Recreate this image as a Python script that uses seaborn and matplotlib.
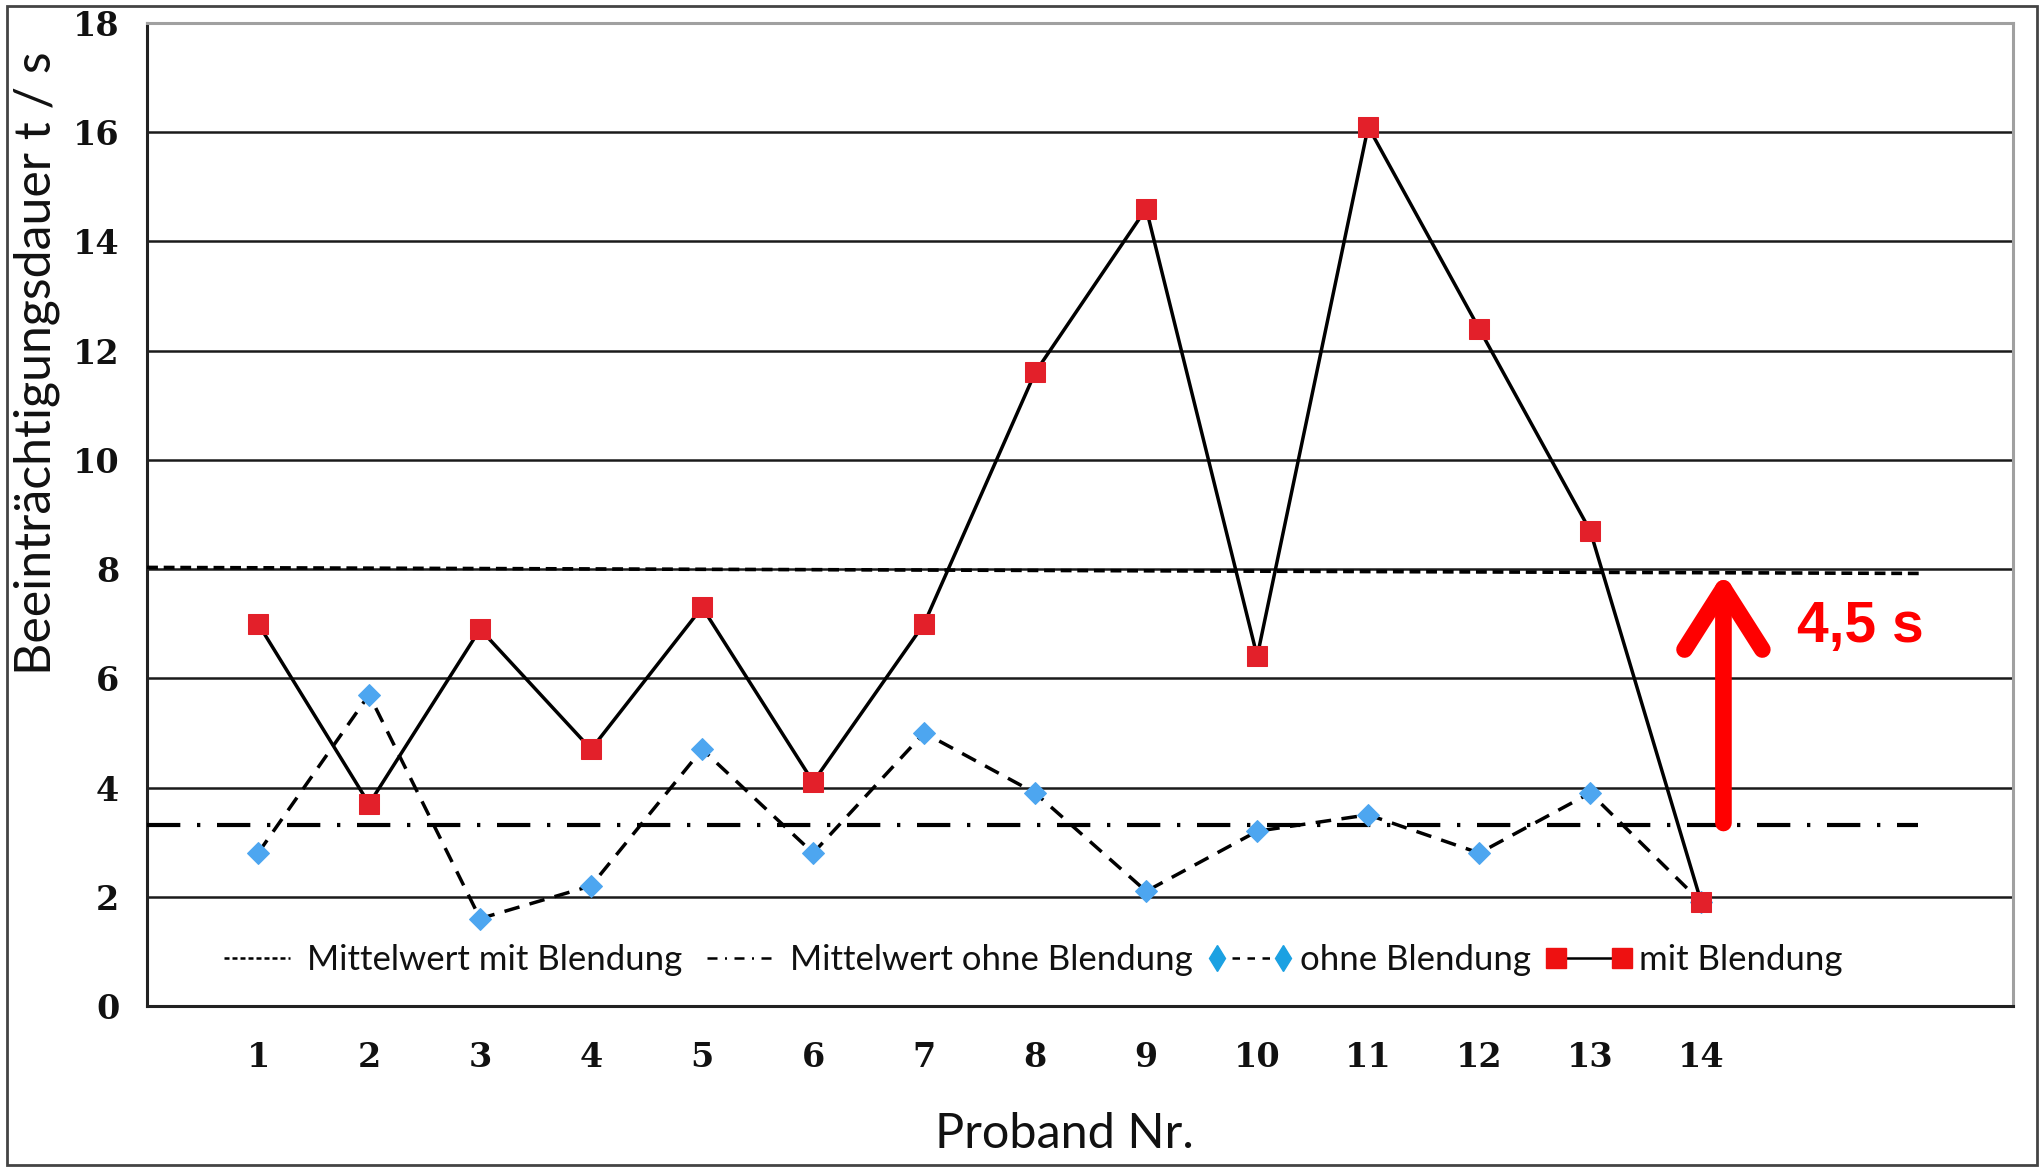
import matplotlib
matplotlib.use('Agg')
import numpy as np
import matplotlib.pyplot as plt
from matplotlib.lines import Line2D
from matplotlib.patches import Rectangle
import seaborn as sns

sns.set_style("white")
plt.rcParams['font.family'] = ['Lato', 'DejaVu Sans']

# ==================== Daten ====================
proband = np.arange(1, 15)
mit_blendung = [7.0, 3.7, 6.9, 4.7, 7.3, 4.1, 7.0, 11.6, 14.6, 6.4, 16.1, 12.4, 8.7, 1.9]
ohne_blendung = [2.8, 5.7, 1.6, 2.2, 4.7, 2.8, 5.0, 3.9, 2.1, 3.2, 3.5, 2.8, 3.9, 1.9]
mittel_mit_x = [0.0, 16.0]
mittel_mit_y = [8.03, 7.92]      # leicht geneigt wie im Original
mittel_ohne_x = [0.0, 15.95]
mittel_ohne_y = [3.32, 3.32]
pfeil_x = 14.2
pfeil_y = [3.35, 7.93]
differenz_text = "4,5 s"
yticks = np.arange(0, 19, 2)

ROT = '#e3202a'
BLAU = '#4da6f0'

fig = plt.figure(figsize=(20.43, 11.70), dpi=100)
ax = fig.add_axes([0.0720, 0.1402, 0.9134, 0.8402])

# Mittelwerte
ax.plot(mittel_mit_x, mittel_mit_y, color='black', lw=2.6, linestyle=(0, (3, 1.6)), zorder=3)
ax.plot(mittel_ohne_x, mittel_ohne_y, color='black', lw=3.0,
        linestyle=(0, (8, 4, 0.8, 4)), zorder=3)

# Messreihen
sns.lineplot(x=proband, y=ohne_blendung, ax=ax, color='black', lw=2.5,
             linestyle=(0, (4.5, 3)), marker='D', markersize=11,
             markerfacecolor=BLAU, markeredgecolor=BLAU, zorder=4)
sns.lineplot(x=proband, y=mit_blendung, ax=ax, color='black', lw=2.5,
             marker='s', markersize=14, markerfacecolor=ROT,
             markeredgecolor=ROT, zorder=5)

# Pfeil und Differenz
ax.annotate('', xy=(pfeil_x, pfeil_y[1]), xytext=(pfeil_x, pfeil_y[0]),
            arrowprops=dict(arrowstyle='->,head_length=2.2,head_width=1.4',
                            color='#ff0000', lw=12, mutation_scale=20,
                            shrinkA=0, shrinkB=0, capstyle='round',
                            joinstyle='round'), zorder=6)
ax.text(14.86, 6.94, differenz_text, color='#ff0000', fontsize=41,
        fontweight='bold', family='Liberation Sans', ha='left', va='center')

# Achsen
ax.set_xlim(0, 16.81)
ax.set_ylim(0, 18)
ax.set_yticks(yticks)
ax.set_xticks(proband)
ax.set_xticks(np.arange(0.5, 17, 1), minor=True)
ax.tick_params(axis='x', which='major', length=0, pad=25)
ax.tick_params(axis='x', which='minor', length=8, width=1.6, direction='out', color='#222222')
ax.tick_params(axis='y', length=7, width=1.6, direction='out', pad=13, color='#222222')
for lab in ax.get_xticklabels() + ax.get_yticklabels():
    lab.set_family('DejaVu Serif')
    lab.set_fontweight('bold')
    lab.set_fontsize(24)
    lab.set_color('#111111')

ax.yaxis.grid(True, color='#1a1a1a', lw=1.8)
ax.get_ygridlines()[-1].set_visible(False)
ax.set_axisbelow(True)
for s in ['left', 'bottom']:
    ax.spines[s].set_color('#222222')
    ax.spines[s].set_linewidth(2.2)
for s in ['top', 'right']:
    ax.spines[s].set_color('#a0a0a0')
    ax.spines[s].set_linewidth(2.2)

# Legende
handles = [
    Line2D([], [], color='black', lw=1.8, linestyle=(0, (2, 1.2))),
    Line2D([], [], color='black', lw=1.8, linestyle=(0, (4, 3, 0.8, 3))),
    Line2D([], [], color='black', lw=1.8, linestyle=(0, (3, 3)), marker='d',
           markersize=13, markerfacecolor='#1ba1e2', markeredgecolor='#1ba1e2'),
    Line2D([], [], color='black', lw=1.8, marker='s', markersize=14,
           markerfacecolor='#ee1111', markeredgecolor='#ee1111'),
]
labels = ['Mittelwert mit Blendung', 'Mittelwert ohne Blendung',
          'ohne Blendung', 'mit Blendung']
ax.legend(handles, labels, ncol=4, frameon=False, fontsize=25,
          loc='center', bbox_to_anchor=(0.472, 0.0467), numpoints=2,
          handlelength=2.5, handletextpad=0.2, columnspacing=0.4,
          labelcolor='#111111')

# Beschriftungen
fig.text(0.0181, 0.69, 'Beeinträchtigungsdauer t / s', rotation=90,
         ha='center', va='center', fontsize=36, color='#111111')
fig.text(0.5208, 0.0188, 'Proband Nr.', ha='center', va='baseline',
         fontsize=35, color='#111111')

# Rahmen um die Abbildung
fig.patches.append(Rectangle((0.0035, 0.004), 0.9935, 0.991, transform=fig.transFigure,
                             fill=False, edgecolor='#444444', lw=2))

plt.savefig('out.png', dpi=100)
plt.close()
